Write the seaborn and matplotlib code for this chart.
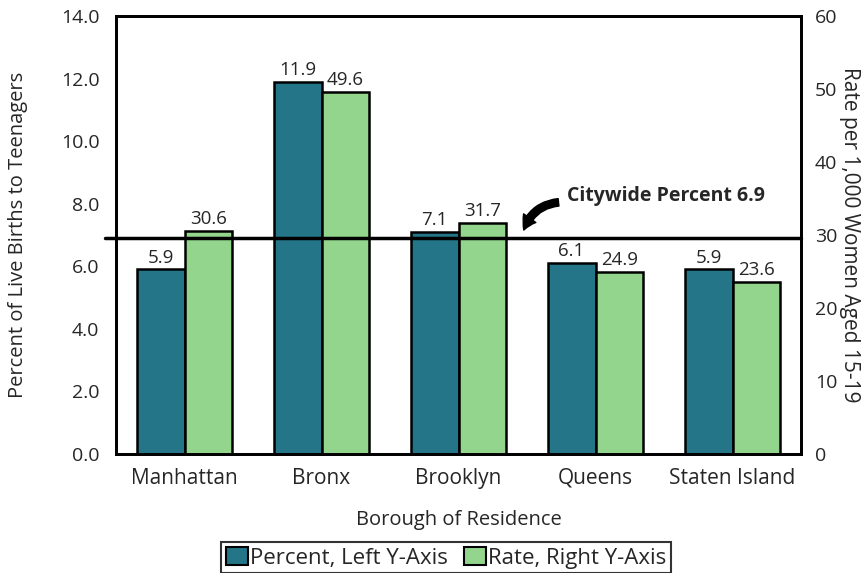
import pandas as pd
import matplotlib.pyplot as plt
import seaborn as sns
from matplotlib.patches import Patch

boroughs = ["Manhattan", "Bronx", "Brooklyn", "Queens", "Staten Island"]
percent = [5.9, 11.9, 7.1, 6.1, 5.9]
rate = [30.6, 49.6, 31.7, 24.9, 23.6]
citywide = 6.9
left_ticks = [0, 2, 4, 6, 8, 10, 12, 14]
right_ticks = [0, 10, 20, 30, 40, 50, 60]

s_pct = "Percent, Left Y-Axis"
s_rate = "Rate, Right Y-Axis"
colors = {s_pct: "#237587", s_rate: "#93D58C"}

df_pct = pd.DataFrame({"Borough": boroughs, "value": percent, "series": s_pct})
df_rate = pd.DataFrame({"Borough": boroughs, "value": rate, "series": s_rate})

sns.set_theme(style="white")
plt.rcParams["font.family"] = ["Open Sans", "DejaVu Sans"]

fig = plt.figure(figsize=(8.66, 5.73), dpi=100)
ax = fig.add_axes([0.134, 0.208, 0.791, 0.764])
ax2 = ax.twinx()

order = [s_pct, s_rate]
sns.barplot(data=df_pct, x="Borough", y="value", hue="series", hue_order=order,
            palette=colors, saturation=1, width=0.7, dodge=True,
            edgecolor="black", linewidth=1.8, ax=ax, legend=False)
sns.barplot(data=df_rate, x="Borough", y="value", hue="series", hue_order=order,
            palette=colors, saturation=1, width=0.7, dodge=True,
            edgecolor="black", linewidth=1.8, ax=ax2, legend=False)

ax.set_xlim(-0.5, 4.5)
ax.set_ylim(0, 14)
ax2.set_ylim(0, 60)
ax.set_yticks(left_ticks)
ax.set_yticklabels([f"{t:.1f}" for t in left_ticks], fontsize=14)
ax2.set_yticks(right_ticks)
ax2.set_yticklabels([str(t) for t in right_ticks], fontsize=14)
ax.tick_params(axis="x", labelsize=15, length=0, pad=10)
ax.tick_params(axis="y", length=0, pad=12)
ax2.tick_params(axis="y", length=0, pad=10)

for c in ax.containers:
    ax.bar_label(c, fmt="%.1f", fontsize=13.5, padding=2)
for c in ax2.containers:
    ax2.bar_label(c, fmt="%.1f", fontsize=13.5, padding=2)

ax.set_xlabel("Borough of Residence", fontsize=14.5, labelpad=15)
ax.set_ylabel("Percent of Live Births to Teenagers", fontsize=14.5,
              va="center", ha="center")
ax.yaxis.set_label_coords(-0.143, 0.5)
ax2.set_ylabel("Rate per 1,000 Women Aged 15-19", fontsize=15, rotation=270,
               va="center", ha="center")
ax2.yaxis.set_label_coords(1.07, 0.5)

for a in (ax, ax2):
    for sp in a.spines.values():
        sp.set_color("black")
        sp.set_linewidth(2)

# citywide reference line
ax2.plot([-0.58, 4.5], [citywide * 60 / 14] * 2, color="black", lw=2.5,
         clip_on=False, zorder=5)
ax2.annotate("", xy=(2.47, 30.3), xytext=(2.75, 34.5),
             arrowprops=dict(arrowstyle="simple,head_width=0.9,head_length=0.8,tail_width=0.45",
                             connectionstyle="arc3,rad=0.35", color="black"))
ax2.text(2.79, 35.4, f"Citywide Percent {citywide}", fontsize=14,
         fontweight="bold", va="center", ha="left")

handles = [Patch(facecolor=colors[s], edgecolor="black", linewidth=1.5) for s in order]
fig.legend(handles, order, loc="lower center", bbox_to_anchor=(0.515, 0.0), ncol=2,
           fontsize=16, frameon=True, fancybox=False, edgecolor="black",
           handlelength=1.0, handleheight=0.9, handletextpad=0.1,
           columnspacing=0.7, borderpad=0.2, borderaxespad=0)
fig.legends[0].get_frame().set_linewidth(1.5)

fig.savefig("out.png", dpi=100)
